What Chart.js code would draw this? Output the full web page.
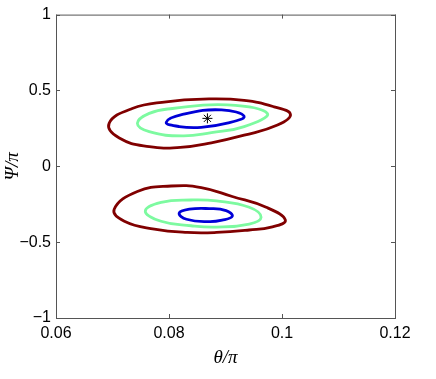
<!DOCTYPE html>
<html>
<head>
<meta charset="utf-8">
<script src="https://cdn.jsdelivr.net/npm/chart.js@4"></script>
<style>
  html, body { margin: 0; padding: 0; background: #fff; }
  #wrap { width: 436px; height: 379px; }
</style>
</head>
<body>
<div id="wrap"><canvas id="c"></canvas></div>
<script>
// tick values
const thetaTicks = [0.06, 0.08, 0.1, 0.12]
const psiTicks = [-1, -0.5, 0, 0.5, 1]

// upper group of contours
const redUpTheta = [0.0694, 0.0735, 0.0795, 0.0860, 0.0933, 0.0986, 0.1015, 0.0992, 0.0933, 0.0875, 0.0820, 0.0765, 0.0712]
const redUpPsi = [0.283, 0.381, 0.425, 0.443, 0.435, 0.392, 0.342, 0.272, 0.205, 0.155, 0.125, 0.130, 0.186]
const greenUpTheta = [0.0744, 0.0765, 0.0806, 0.0903, 0.0974, 0.0933, 0.0875, 0.0824, 0.0765]
const greenUpPsi = [0.283, 0.349, 0.381, 0.405, 0.349, 0.262, 0.222, 0.200, 0.228]
const blueUpTheta = [0.0795, 0.0824, 0.0893, 0.0933, 0.0903, 0.0857, 0.0818]
const blueUpPsi = [0.290, 0.342, 0.372, 0.329, 0.285, 0.257, 0.262]

// lower group of contours
const redLowTheta = [0.0703, 0.0744, 0.0804, 0.0857, 0.0912, 0.0972, 0.1006, 0.0981, 0.0942, 0.0884, 0.0832, 0.0774, 0.0721]
const redLowPsi = [-0.283, -0.166, -0.130, -0.140, -0.199, -0.270, -0.355, -0.401, -0.420, -0.436, -0.436, -0.414, -0.362]
const greenLowTheta = [0.0758, 0.0786, 0.0839, 0.0884, 0.0942, 0.0963, 0.0942, 0.0884, 0.0839, 0.0786]
const greenLowPsi = [-0.296, -0.238, -0.222, -0.228, -0.270, -0.336, -0.381, -0.401, -0.392, -0.362]
const blueLowTheta = [0.0818, 0.0836, 0.0871, 0.0901, 0.0912, 0.0894, 0.0871, 0.0831]
const blueLowPsi = [-0.309, -0.283, -0.279, -0.292, -0.329, -0.355, -0.365, -0.349]

// marked point
const starTheta = [0.0868]
const starPsi = [0.316]

const darkRed = 'rgb(128,0,0)'
const lightGreen = 'rgb(125,250,160)'
const blue = 'rgb(0,0,215)'

function contour(xs, ys, color) {
    return {
        data: xs.map((x, i) => ({ x: x, y: ys[i] })),
        showLine: true,
        closed: true,
        borderColor: color,
        borderWidth: 2.8,
        pointRadius: 0,
        tension: 0.45,
        fill: false
    }
}

const fmt = v => String(v).replace('-', '\u2212')

// make the contour lines closed smooth loops (same trick the radar chart uses)
const closeLoops = {
    id: 'closeLoops',
    afterDatasetsUpdate(chart) {
        chart.data.datasets.forEach((ds, i) => {
            if (!ds.closed) return
            let line = chart.getDatasetMeta(i).dataset
            if (!line) return
            line._loop = true
            line._fullLoop = true
            line._pointsUpdated = false
        })
    }
}

// box round the plot and inward ticks, matlab style
const boxTicks = {
    id: 'boxTicks',
    afterDraw(chart) {
        const { ctx, chartArea: a, scales } = chart
        ctx.save()
        ctx.strokeStyle = '#555'
        ctx.lineWidth = 1
        ctx.strokeRect(a.left + 0.5, a.top + 0.5, a.right - a.left, a.bottom - a.top)
        ctx.beginPath()
        thetaTicks.forEach(v => {
            let px = Math.round(scales.x.getPixelForValue(v)) + 0.5
            ctx.moveTo(px, a.bottom); ctx.lineTo(px, a.bottom - 4)
            ctx.moveTo(px, a.top); ctx.lineTo(px, a.top + 4)
        })
        psiTicks.forEach(v => {
            let py = Math.round(scales.y.getPixelForValue(v)) + 0.5
            ctx.moveTo(a.left, py); ctx.lineTo(a.left + 4, py)
            ctx.moveTo(a.right, py); ctx.lineTo(a.right - 4, py)
        })
        ctx.stroke()
        ctx.restore()
    }
}

const tickFont = { family: '"Liberation Sans", Arial, sans-serif', size: 16 }
const titleFont = { family: '"Liberation Serif", "DejaVu Serif", serif', size: 19, style: 'italic' }

new Chart(document.getElementById('c'), {
    type: 'scatter',
    data: {
        datasets: [
            contour(redUpTheta, redUpPsi, darkRed),
            contour(greenUpTheta, greenUpPsi, lightGreen),
            contour(blueUpTheta, blueUpPsi, blue),
            contour(redLowTheta, redLowPsi, darkRed),
            contour(greenLowTheta, greenLowPsi, lightGreen),
            contour(blueLowTheta, blueLowPsi, blue),
            {
                data: starTheta.map((x, i) => ({ x: x, y: starPsi[i] })),
                pointStyle: 'star',
                pointRadius: 5,
                borderColor: '#000',
                backgroundColor: '#000',
                borderWidth: 1,
                showLine: false
            }
        ]
    },
    options: {
        responsive: true,
        maintainAspectRatio: false,
        animation: false,
        events: [],
        layout: { padding: { top: 11, right: 41, left: 0, bottom: 0 } },
        plugins: { legend: { display: false }, tooltip: { enabled: false } },
        scales: {
            x: {
                type: 'linear',
                min: 0.06, max: 0.12,
                afterBuildTicks: s => { s.ticks = thetaTicks.map(v => ({ value: v })) },
                afterFit: s => { s.height = 61 },
                grid: { display: false, drawTicks: false },
                border: { display: false },
                ticks: { color: '#000', font: tickFont, padding: 6, maxRotation: 0, callback: fmt },
                title: { display: true, text: 'θ/π', color: '#000', font: titleFont, padding: { top: 0, bottom: 10 } }
            },
            y: {
                type: 'linear',
                min: -1, max: 1,
                afterBuildTicks: s => { s.ticks = psiTicks.map(v => ({ value: v })) },
                afterFit: s => { s.width = 56 },
                grid: { display: false, drawTicks: false },
                border: { display: false },
                ticks: { color: '#000', font: tickFont, padding: 5, callback: fmt },
                title: { display: true, text: 'Ψ/π', color: '#000', font: titleFont, padding: { top: 2, bottom: 0 } }
            }
        }
    },
    plugins: [closeLoops, boxTicks]
})
</script>
</body>
</html>
